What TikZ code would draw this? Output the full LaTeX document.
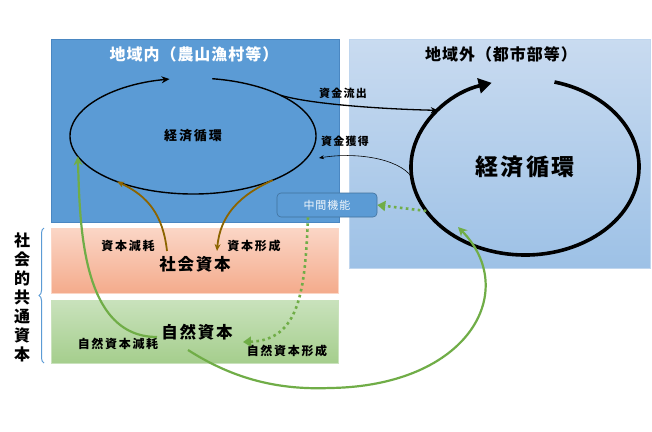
\documentclass[tikz,border=0pt]{standalone}
\usepackage{fontspec}
\setmainfont{Noto Sans CJK JP}
\usetikzlibrary{arrows.meta,shapes.geometric,decorations.pathreplacing}
\definecolor{boxblue}{HTML}{5B9BD5}
\definecolor{boxblueedge}{HTML}{4A87C2}
\definecolor{midedge}{HTML}{41719C}
\definecolor{outtop}{HTML}{C9DBF0}
\definecolor{outbot}{HTML}{9DC1E6}
\definecolor{pinktop}{HTML}{FBD6C6}
\definecolor{pinkbot}{HTML}{F4AB8C}
\definecolor{greentop}{HTML}{C9E2BC}
\definecolor{greenbot}{HTML}{A5CE8D}
\definecolor{arrgreen}{HTML}{70AD47}
\definecolor{arrbrown}{HTML}{8C6400}
\tikzset{
  titlefont/.style={inner sep=0, font=\bfseries\fontsize{16}{19}\selectfont\addfontfeatures{LetterSpace=6}},
  cycsmall/.style={font=\bfseries\fontsize{13}{15}\selectfont\addfontfeatures{LetterSpace=15}},
  cycbig/.style={font=\bfseries\fontsize{23}{27}\selectfont\addfontfeatures{LetterSpace=9}},
  moneylbl/.style={inner sep=0, font=\bfseries\fontsize{11}{13}\selectfont\addfontfeatures{LetterSpace=12}},
  lbl/.style={inner sep=0, font=\bfseries\fontsize{12}{14}\selectfont\addfontfeatures{LetterSpace=14}},
  biglbl/.style={inner sep=0, font=\bfseries\fontsize{16.5}{19}\selectfont\addfontfeatures{LetterSpace=11}},
  vertlbl/.style={inner sep=0, align=center, font=\bfseries\fontsize{16}{19}\selectfont},
  midbox/.style={rectangle, rounded corners=4pt, fill=boxblue, draw=midedge, line width=0.6pt,
    minimum width=100pt, minimum height=24pt, inner sep=0, text=white!92!boxblue,
    font=\fontsize{11}{13}\selectfont\addfontfeatures{LetterSpace=9}},
  panel/.style={rectangle, inner sep=0, outer sep=0, anchor=north west},
  cyc/.style={ellipse, inner sep=0, outer sep=0},
  brownarr/.style={draw=arrbrown, line width=1.8pt, -{Stealth[length=7pt,width=6pt]}},
  greenarr/.style={draw=arrgreen, line width=2.2pt, -{Stealth[length=9pt,width=9pt]}},
  dotarrow/.style={draw=arrgreen, line width=2.6pt, dash pattern=on 2.6pt off 3.4pt,
    -{Triangle[length=8pt,width=10pt]}},
}
\begin{document}
\begin{tikzpicture}[x=1pt,y=1pt]
\useasboundingbox (0,0) rectangle (652,-431);
\fill[white] (0,0) rectangle (652,-431);

% panels
\node[panel, fill=boxblue, draw=boxblueedge, line width=0.6pt, minimum width=288pt, minimum height=183pt] (inbox) at (51,-39) {};
\node[panel, top color=outtop, bottom color=outbot, draw=outtop!80!outbot, line width=0.5pt, minimum width=301pt, minimum height=229pt] (outbox) at (349,-39) {};
\node[panel, top color=pinktop, bottom color=pinkbot, draw=pinktop, line width=0.5pt, minimum width=287pt, minimum height=65pt] (socbox) at (51,-228) {};
\node[panel, top color=greentop, bottom color=greenbot, draw=greentop, line width=0.5pt, minimum width=287pt, minimum height=63pt] (natbox) at (51,-300) {};

% titles
\node[titlefont, text=white] (tin) at (194,-54) {地域内（農山漁村等）};
\node[titlefont] (tout) at (501,-54) {地域外（都市部等）};

% cycles
\node[cyc, cycsmall, minimum width=246pt, minimum height=116pt] (Lell) at (193,-136) {経済循環};
\node[cyc, cycbig, minimum width=228pt, minimum height=176pt] (Rell) at (525,-167) {経済循環};
\draw[line width=1.4pt, -{Stealth[length=8pt,width=7pt]}] (Lell.center) ++(81:123pt and 58pt)
  arc[start angle=81, end angle=-259, x radius=123pt, y radius=58pt];
\draw[line width=3.6pt, -{Triangle[length=13pt,width=15pt]}] (Rell.center) ++(75:114pt and 88pt)
  arc[start angle=75, end angle=-253, x radius=114pt, y radius=88pt];

% money flows
\node[moneylbl] (outflow) at (343,-93) {資金流出};
\draw[line width=1.3pt, -{Stealth[length=7pt,width=6pt]}] (Lell.25) .. controls (310,-104) and (380,-109) .. (Rell.147);
\node[moneylbl] (gain) at (345,-141) {資金獲得};
\coordinate (gainend) at (319,-158);
\draw[line width=0.6pt, -{Stealth[length=5pt,width=4pt]}] (Rell.185) .. controls (398,-158) and (355,-152) .. (gainend);

% intermediate function
\node[midbox] (mid) at (327,-205) {中間機能};
\draw[dotarrow] (Rell.204) -- (mid.east);
\coordinate (ncform) at (243,-342);
\draw[dotarrow] ([xshift=-19pt]mid.south) .. controls (305,-290) and (300,-340) .. (ncform);

% social capital
\node[lbl] (depl) at (128,-246) {資本減耗};
\node[lbl] (form) at (254,-246) {資本形成};
\node[biglbl] (soc) at (195,-264) {社会資本};
\coordinate (deplstart) at (167,-251);
\coordinate (formend) at (217,-251);
\draw[brownarr] (deplstart) .. controls (163,-215) and (148,-196) .. (Lell.211);
\draw[brownarr] (Lell.-29) .. controls (240,-195) and (220,-215) .. (formend);

% natural capital
\node[biglbl] (nat) at (197,-332) {自然資本};
\node[lbl] (ndepl) at (118,-344) {自然資本減耗};
\node[lbl] (nform) at (287,-351) {自然資本形成};
\coordinate (ndstart) at (157,-337);
\draw[greenarr] (ndstart) .. controls (80,-337) and (80,-220) .. (Lell.190);
\coordinate (nfstart) at (188,-350);
\coordinate (nfend) at (458,-227);
\draw[greenarr] (nfstart) .. controls (235,-380) and (280,-390) .. (330,-388)
  .. controls (470,-386) and (520,-290) .. (nfend);

% social common capital
\draw[boxblue, line width=1pt, decorate, decoration={brace, amplitude=5pt}]
  ([xshift=-7pt]natbox.south west) -- ([xshift=-7pt]socbox.north west);
\node[vertlbl] (common) at (22,-297) {社\\会\\的\\共\\通\\資\\本};
\end{tikzpicture}
\end{document}
